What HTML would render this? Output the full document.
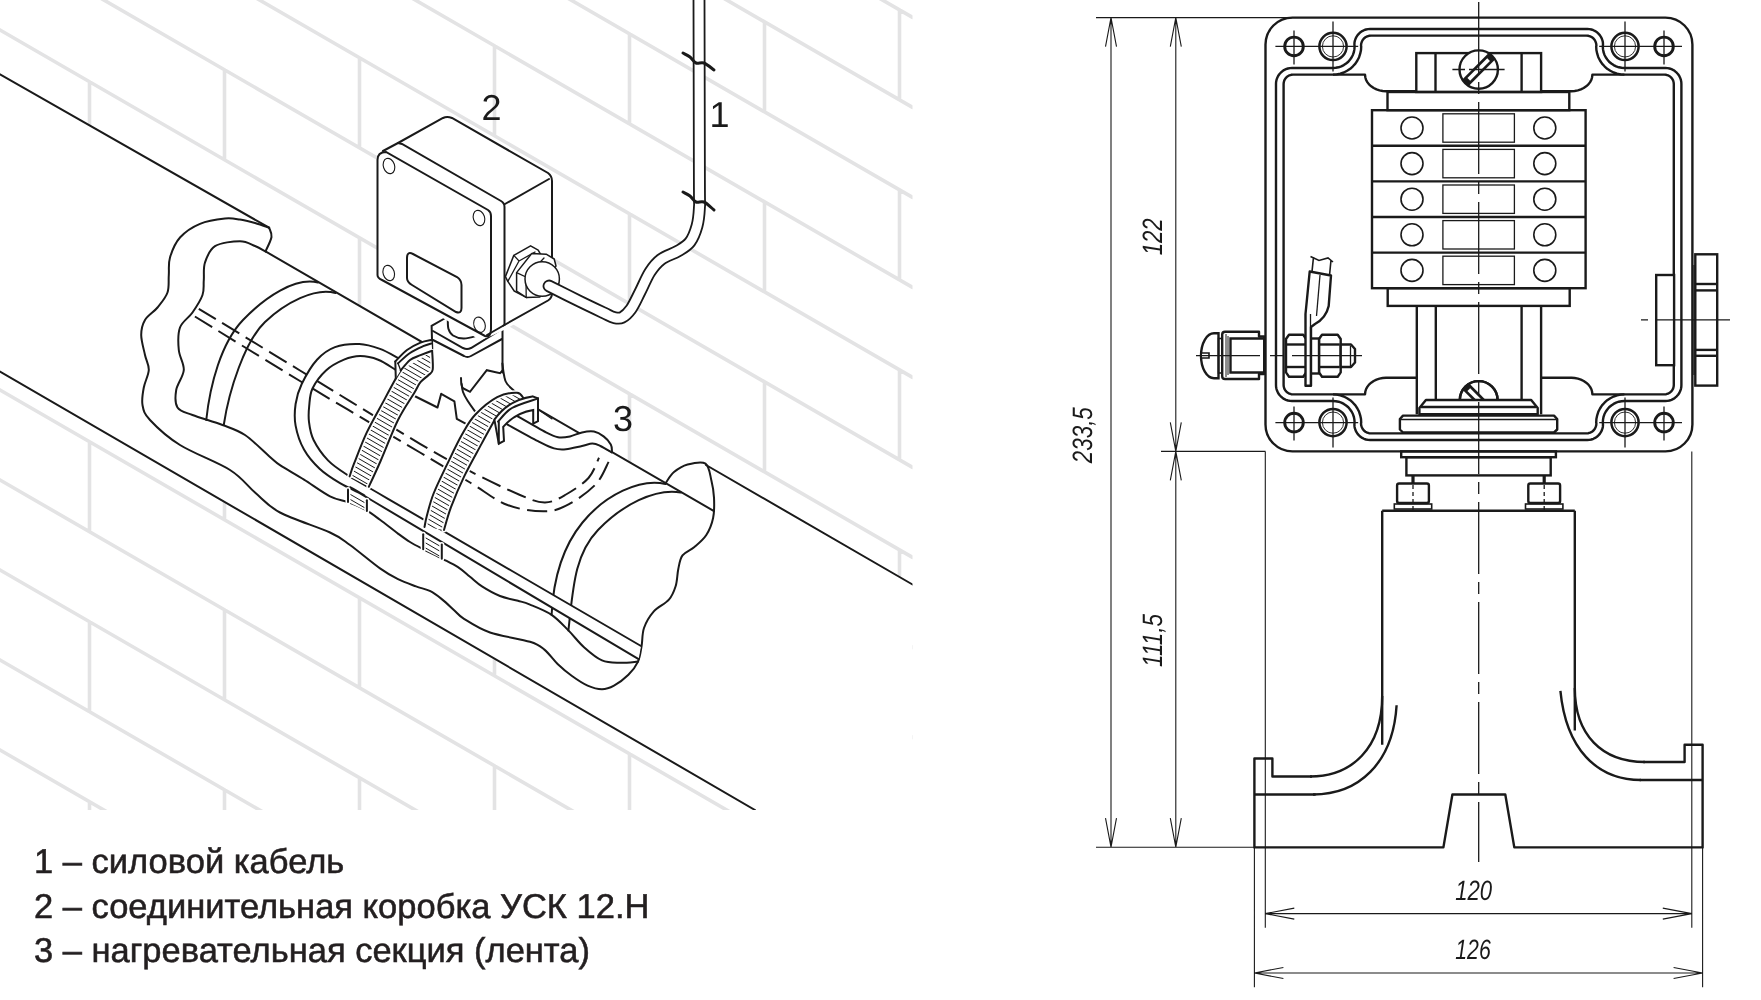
<!DOCTYPE html>
<html><head><meta charset="utf-8"><style>
html,body{margin:0;padding:0;background:#fff;}
body{width:1761px;height:1000px;overflow:hidden;position:relative;}
svg{position:absolute;left:0;top:0;will-change:transform;}
text{-webkit-font-smoothing:antialiased;text-rendering:geometricPrecision;}
.lg{position:absolute;left:0;top:0;font-family:"Liberation Sans",sans-serif;color:#231f20;white-space:nowrap;}
</style></head><body>
<svg width="1761" height="1000" viewBox="0 0 1761 1000" stroke-linecap="round">
<defs><clipPath id="lc"><rect x="0" y="0" width="912.5" height="810"/></clipPath><pattern id="hatch" patternUnits="userSpaceOnUse" width="4.4" height="4.4" patternTransform="rotate(30)"><line x1="-1" y1="2.2" x2="5.4" y2="2.2" stroke="#1a1a1a" stroke-width="1.0"/></pattern></defs>
<g clip-path="url(#lc)">
<path d="M0,-690 L912.5,-162.6 M89.5,-638.3 L89.5,-548.3 M359.5,-482.2 L359.5,-392.2 M629.5,-326.1 L629.5,-236.1 M899.5,-170.1 L899.5,-80.1 M0,-600 L912.5,-72.6 M224.5,-470.2 L224.5,-380.2 M494.5,-314.2 L494.5,-224.2 M764.5,-158.1 L764.5,-68.1 M0,-510 L912.5,17.4 M89.5,-458.3 L89.5,-368.3 M359.5,-302.2 L359.5,-212.2 M629.5,-146.1 L629.5,-56.1 M899.5,9.9 L899.5,99.9 M0,-420 L912.5,107.4 M224.5,-290.2 L224.5,-200.2 M494.5,-134.2 L494.5,-44.2 M764.5,21.9 L764.5,111.9 M0,-330 L912.5,197.4 M89.5,-278.3 L89.5,-188.3 M359.5,-122.2 L359.5,-32.2 M629.5,33.9 L629.5,123.9 M899.5,189.9 L899.5,279.9 M0,-240 L912.5,287.4 M224.5,-110.2 L224.5,-20.2 M494.5,45.8 L494.5,135.8 M764.5,201.9 L764.5,291.9 M0,-150 L912.5,377.4 M89.5,-98.3 L89.5,-8.3 M359.5,57.8 L359.5,147.8 M629.5,213.9 L629.5,303.9 M899.5,369.9 L899.5,459.9 M0,-60 L912.5,467.4 M224.5,69.8 L224.5,159.8 M494.5,225.8 L494.5,315.8 M764.5,381.9 L764.5,471.9 M0,30 L912.5,557.4 M89.5,81.7 L89.5,171.7 M359.5,237.8 L359.5,327.8 M629.5,393.9 L629.5,483.9 M899.5,549.9 L899.5,639.9 M0,120 L912.5,647.4 M224.5,249.8 L224.5,339.8 M494.5,405.8 L494.5,495.8 M764.5,561.9 L764.5,651.9 M0,210 L912.5,737.4 M89.5,261.7 L89.5,351.7 M359.5,417.8 L359.5,507.8 M629.5,573.9 L629.5,663.9 M899.5,729.9 L899.5,819.9 M0,300 L912.5,827.4 M224.5,429.8 L224.5,519.8 M494.5,585.8 L494.5,675.8 M764.5,741.9 L764.5,831.9 M0,390 L912.5,917.4 M89.5,441.7 L89.5,531.7 M359.5,597.8 L359.5,687.8 M629.5,753.9 L629.5,843.9 M899.5,909.9 L899.5,999.9 M0,480 L912.5,1007.4 M224.5,609.8 L224.5,699.8 M494.5,765.8 L494.5,855.8 M764.5,921.9 L764.5,1011.9 M0,570 L912.5,1097.4 M89.5,621.7 L89.5,711.7 M359.5,777.8 L359.5,867.8 M629.5,933.9 L629.5,1023.9 M899.5,1089.9 L899.5,1179.9 M0,660 L912.5,1187.4 M224.5,789.8 L224.5,879.8 M494.5,945.8 L494.5,1035.8 M764.5,1101.9 L764.5,1191.9 M0,750 L912.5,1277.4 M89.5,801.7 L89.5,891.7 M359.5,957.8 L359.5,1047.8 M629.5,1113.9 L629.5,1203.9 M899.5,1269.9 L899.5,1359.9 M0,840 L912.5,1367.4 M224.5,969.8 L224.5,1059.8 M494.5,1125.8 L494.5,1215.8 M764.5,1281.9 L764.5,1371.9 M0,930 L912.5,1457.4 M89.5,981.7 L89.5,1071.7 M359.5,1137.8 L359.5,1227.8 M629.5,1293.9 L629.5,1383.9 M899.5,1449.9 L899.5,1539.9 M0,1020 L912.5,1547.4 M224.5,1149.8 L224.5,1239.8 M494.5,1305.8 L494.5,1395.8 M764.5,1461.9 L764.5,1551.9" stroke="#e3e3e4" stroke-width="3.6" fill="none"/>
<polygon points="0,74.3 269.1,227.7 271.2,237 265.5,251.4 665,482.7 680,470 700,464 706,465 912.5,584.5 912.5,810 755,810 0,371.5" fill="#fff" stroke="none" stroke-width="0" stroke-linejoin="round" />
<line x1="0" y1="74.3" x2="269.1" y2="227.7" stroke="#1a1a1a" stroke-width="2.0" />
<path d="M269.1,227.7 C269.5,229.2 272.1,233.1 271.5,237 C270.9,240.9 266.5,249 265.5,251.4" fill="none" stroke="#1a1a1a" stroke-width="2.0" />
<path d="M269.1,227.7 C266.8,226.9 259.9,224.3 255,223 C250.2,221.7 245,220.3 240,219.6 C235,218.8 231.7,217.8 225,218.5 C218.3,219.2 207.5,220.6 200,223.8 C192.5,226.9 185,231.9 180,237.5 C175,243.1 171.9,251.2 170,257.5 C168.1,263.8 169.2,269.2 168.8,275 C168.3,280.8 169.4,287.1 167.5,292.5 C165.6,297.9 161.2,302.9 157.5,307.5 C153.8,312.1 147.7,315.4 145,320 C142.3,324.6 141.2,329.2 141.2,335 C141.2,340.8 143.8,349.2 145,355 C146.2,360.8 149,364.6 148.8,370 C148.5,375.4 144.8,381.7 143.8,387.5 C142.7,393.3 141.5,399.6 142.5,405 C143.5,410.4 143.8,413.3 150,420 C156.2,426.7 166.7,436.7 180,445 C193.3,453.3 217.5,462.1 230,470 C242.5,477.9 246.7,485.4 255,492.5 C263.3,499.6 267.5,505.8 280,512.5 C292.5,519.2 318.3,527.1 330,532.5 C341.7,537.9 341.7,539 350,545 C358.3,551 372,562.7 380,568.4 C388,574.1 392,576.2 398,579.2 C404,582.2 410.6,584.4 416,586.4 C421.4,588.4 426,589 430.4,591.2 C434.8,593.4 438.4,596.4 442.4,599.6 C446.4,602.8 450.8,607.2 454.4,610.4 C458,613.6 458.1,615.1 464,618.8 C469.9,622.5 479,628.7 490,632.5 C501,636.3 520.9,638.9 530,641.8 C539.1,644.6 539.8,645.9 544.4,649.6 C549,653.3 553,659.6 557.6,664 C562.2,668.4 567,672.4 572,676 C577,679.6 582.6,683.4 587.6,685.6 C592.6,687.8 597.6,689.2 602,689.2 C606.4,689.2 609.6,688 614,685.6 C618.4,683.2 624.4,678.8 628.4,674.8 C632.4,670.8 635.8,666.4 638,661.6 C640.2,656.8 640.6,651.6 641.6,646 C642.6,640.4 642,633.7 644,628 C646,622.3 649.5,616.3 653.6,611.6 C657.8,606.9 665.2,604 668.9,599.7 C672.6,595.4 674.1,591.1 675.7,586 C677.3,580.9 677.2,574.1 678.3,569 C679.4,563.9 679.8,559.1 682.5,555.4 C685.2,551.7 690.4,550.4 694.4,547 C698.4,543.6 703.2,539.8 706.3,535 C709.4,530.2 711.8,524.2 713.1,518 C714.4,511.8 714.3,503.8 714,497.6 C713.7,491.4 712.8,486.3 711.4,480.6 C710,474.9 709.5,466.3 705.5,463.6 C701.5,460.9 692.9,463.1 687.6,464.5 C682.4,465.9 677.7,469 674,472.1 C670.3,475.2 666.9,481.4 665.5,483.2" fill="none" stroke="#1a1a1a" stroke-width="2.0" />
<path d="M265.5,251.4 C263.8,250.5 259.2,247.7 255,246 C250.8,244.3 246.7,241.2 240,241.2 C233.3,241.2 220.8,242.7 215,246.2 C209.2,249.8 206.9,256.9 205,262.5 C203.1,268.1 204.2,274.6 203.8,280 C203.3,285.4 204.4,289.6 202.5,295 C200.6,300.4 196.2,307.1 192.5,312.5 C188.8,317.9 182.3,321.2 180,327.5 C177.7,333.8 178.1,342.9 178.8,350 C179.4,357.1 184.2,363.3 183.8,370 C183.3,376.7 177.3,383.8 176.2,390 C175.2,396.2 174.8,403.3 177.5,407.5 C180.2,411.7 185,412.1 192.5,415 C200,417.9 213.8,421.7 222.5,425 C231.2,428.3 237.1,429.7 245,435 C252.9,440.3 264.2,452 270,457 C275.8,462 274.3,461.4 280,465.2 C285.7,469 295.7,474.4 304,479.6 C312.3,484.8 322.7,492.6 330,496.3 C337.3,500.1 342,499.8 348,502.1 C354,504.4 360.7,507.2 366,510.2 C371.3,513.1 374.7,515.9 380,519.8 C385.3,523.7 393,529.9 398,533.6 C403,537.3 405.8,539.4 410,542 C414.2,544.6 417.8,546.4 423.2,549.2 C428.6,552 436.6,555.8 442.4,558.8 C448.2,561.8 453.4,564.2 458,567.2 C462.6,570.2 466,573.6 470,576.8 C474,580 477,583.2 482,586.4 C487,589.6 494,593.6 500,596 C506,598.4 513,599.4 518,600.8 C523,602.2 524.4,602.3 530,604.6 C535.6,606.9 545.2,610.5 551.6,614.8 C558,619.1 563,625 568.4,630.4 C573.8,635.8 578.4,642.2 584,647.2 C589.6,652.2 596,657.8 602,660.4 C608,663 614,662.6 620,662.8 C626,663 635,661.8 638,661.6" fill="none" stroke="#1a1a1a" stroke-width="2.0" />
<line x1="265.5" y1="251.4" x2="714" y2="511.1" stroke="#1a1a1a" stroke-width="2.0" />
<line x1="706" y1="465" x2="912.5" y2="584.5" stroke="#1a1a1a" stroke-width="2.0" />
<line x1="0" y1="371.5" x2="755" y2="810" stroke="#1a1a1a" stroke-width="2.0" />
<path d="M198.8,308.8 C215.6,319 263.1,348 300,370.5 C336.9,393 391.7,427 420,443.8 C448.3,460.5 453.3,462.7 470,471.2 C486.7,479.8 507.5,489.8 520,495 C532.5,500.2 537.3,502.6 545,502.5 C552.7,502.4 558.8,498.6 566,494.5 C573.2,490.4 583,484.1 588.5,478 C594,471.9 597.2,461.1 599,457.8" fill="none" stroke="#1a1a1a" stroke-width="2.0" stroke-dasharray="20 7.5" stroke-linecap="butt"/>
<path d="M192.5,315 C210.4,326 262.1,358.1 300,381 C337.9,403.9 391.7,435.6 420,452.5 C448.3,469.4 455.4,473.8 470,482.5 C484.6,491.2 495,500.2 507.5,505 C520,509.8 534.8,511.4 545,511.2 C555.2,511.1 560.5,508.8 569,504.2 C577.5,499.7 589.4,491.1 596,484 C602.6,476.9 606.6,465.2 608.8,461.5" fill="none" stroke="#1a1a1a" stroke-width="2.0" stroke-dasharray="20 7.5" stroke-dashoffset="24.3" stroke-linecap="butt"/>
<path d="M318,282.5 C295,277 265,297 243,320 S210,385 206.25,420" fill="none" stroke="#1a1a1a" stroke-width="2.0" />
<path d="M335.5,293 C315,287 285,303 265,322 S229,390 223.75,425" fill="none" stroke="#1a1a1a" stroke-width="2.0" />
<path d="M665.5,484 C640,478 605,495 582.5,522.5 S553,585 551.6,614.8" fill="none" stroke="#1a1a1a" stroke-width="2.0" />
<path d="M680.8,492.5 C655,488 622,505 598,530 S573,590 568.4,630.4" fill="none" stroke="#1a1a1a" stroke-width="2.0" />
<path d="M398,357.9 C395,356.4 386.4,351.2 380,348.9 C373.6,346.6 366.8,344.3 359.3,344 C351.8,343.7 342.1,344.5 335,347.1 C327.9,349.7 322.6,353.6 317,359.7 C311.4,365.8 305.3,376.6 301.7,384 C298.1,391.4 296.6,397.1 295.6,404 C294.6,410.9 294.2,418 295.6,425.6 C297,433.2 300,442.4 304,449.6 C308,456.8 313.6,463.2 319.6,468.8 C325.6,474.4 332.6,478.8 340,483.2 C347.4,487.6 358.8,492.4 364,495.2 C369.2,498 325.4,472.7 371.2,500 C417,527.3 594,632.7 638.6,659.2 L641,646 C598.8,621.5 437,527.3 388,498.8 C339,470.3 357.2,481.2 347.2,474.8 C337.2,468.4 333.6,466.2 328,460.4 C322.4,454.6 316.8,446.4 313.6,440 C310.4,433.6 309.7,427.7 309,422 C308.3,416.3 308.6,411.6 309.2,406 C309.8,400.4 309.7,394.4 312.5,388.5 C315.3,382.6 320.8,375.3 326,370.5 C331.2,365.7 338.3,362.1 344,359.7 C349.7,357.3 354.5,356.1 360.2,356.1 C365.9,356.1 372.3,357.4 378.2,359.7 C384.1,361.9 392.4,368 395.3,369.6Z" fill="#fff" stroke="none"/>
<path d="M398,357.9 C395,356.4 386.4,351.2 380,348.9 C373.6,346.6 366.8,344.3 359.3,344 C351.8,343.7 342.1,344.5 335,347.1 C327.9,349.7 322.6,353.6 317,359.7 C311.4,365.8 305.3,376.6 301.7,384 C298.1,391.4 296.6,397.1 295.6,404 C294.6,410.9 294.2,418 295.6,425.6 C297,433.2 300,442.4 304,449.6 C308,456.8 313.6,463.2 319.6,468.8 C325.6,474.4 332.6,478.8 340,483.2 C347.4,487.6 358.8,492.4 364,495.2 C369.2,498 325.4,472.7 371.2,500 C417,527.3 594,632.7 638.6,659.2" fill="none" stroke="#1a1a1a" stroke-width="2.0" />
<path d="M395.3,369.6 C392.4,368 384.1,361.9 378.2,359.7 C372.3,357.4 365.9,356.1 360.2,356.1 C354.5,356.1 349.7,357.3 344,359.7 C338.3,362.1 331.2,365.7 326,370.5 C320.8,375.3 315.3,382.6 312.5,388.5 C309.7,394.4 309.8,400.4 309.2,406 C308.6,411.6 308.3,416.3 309,422 C309.7,427.7 310.4,433.6 313.6,440 C316.8,446.4 322.4,454.6 328,460.4 C333.6,466.2 337.2,468.4 347.2,474.8 C357.2,481.2 339,470.3 388,498.8 C437,527.3 598.8,621.5 641,646" fill="none" stroke="#1a1a1a" stroke-width="2.0" />
<path d="M516.4,415.6 C521.3,418.4 539.1,428.8 546,432.4 C552.9,436 554,436.5 558,437.2 C562,437.9 566,437.2 570,436.4 C574,435.6 578,433.2 582,432.4 C586,431.6 590.4,430.9 594,431.6 C597.6,432.3 600.8,434.3 603.6,436.4 C606.4,438.5 609.4,441.9 610.8,444.4 C612.2,446.9 611.8,450.4 612,451.6 L611.6,452.4 C609.7,451.3 603.6,447.5 600.4,446 C597.2,444.5 595.5,443.6 592.4,443.6 C589.3,443.6 586.4,445.1 582,446 C577.6,446.9 570.7,448.8 566,449.2 C561.3,449.6 558.7,449.7 554,448.4 C549.3,447.1 545.8,445.2 538,441.2 C530.2,437.2 512.3,427.2 507.2,424.4Z" fill="#fff" stroke="none"/>
<path d="M507.2,424.4 C512.3,427.2 530.2,437.2 538,441.2 C545.8,445.2 549.3,447.1 554,448.4 C558.7,449.7 561.3,449.6 566,449.2 C570.7,448.8 577.6,446.9 582,446 C586.4,445.1 589.3,443.6 592.4,443.6 C595.5,443.6 597.2,444.5 600.4,446 C603.6,447.5 609.7,451.3 611.6,452.4" fill="none" stroke="#1a1a1a" stroke-width="2.0" />
<path d="M516.4,415.6 C521.3,418.4 539.1,428.8 546,432.4 C552.9,436 554,436.5 558,437.2 C562,437.9 566,437.2 570,436.4 C574,435.6 578,433.2 582,432.4 C586,431.6 590.4,430.9 594,431.6 C597.6,432.3 600.8,434.3 603.6,436.4 C606.4,438.5 609.4,441.9 610.8,444.4 C612.2,446.9 611.8,450.4 612,451.6" fill="none" stroke="#1a1a1a" stroke-width="2.0" />
<line x1="538.8" y1="410" x2="552" y2="419" stroke="#1a1a1a" stroke-width="1.1" />
<path d="M431.5,328 Q431.5,323 436,320.5 L448,314 L502.5,330 L502.5,372.5 Q505,385 520,396 L470,420 L456.8,418.8 L454.4,401.4 L441.25,393.75 L437.5,407.5 L412.5,395 L431.5,369 Z" fill="#fff" stroke="none" stroke-width="0" />
<path d="M432.8,367.2 L431.6,325.8 L445.4,318" fill="none" stroke="#1a1a1a" stroke-width="2.0" />
<path d="M433,331 L463,348 Q467,350 471,348 L502,329" fill="none" stroke="#1a1a1a" stroke-width="2.0" />
<path d="M433,340 L464,356 Q467.5,358 471,356 L502,339" fill="none" stroke="#1a1a1a" stroke-width="2.0" />
<line x1="502.5" y1="330" x2="502.5" y2="372.5" stroke="#1a1a1a" stroke-width="2.0" />
<path d="M502.4,363.6 C502.7,365.5 503.2,371.6 504,375 C504.8,378.4 504.3,380.3 507.2,384 C510.1,387.7 519.2,395 521.6,397.2" fill="none" stroke="#1a1a1a" stroke-width="2.0" />
<polyline points="412.5,395 437.5,407.5 441.2,393.8 454.4,401.4 456.8,418.8 468.8,425.4" fill="none" stroke="#1a1a1a" stroke-width="2.0" stroke-linejoin="round" />
<path d="M461,378 Q461,388 464,388.8 L470,391.8 L486.8,370.2 L500,373.2 L502.4,370.8" fill="none" stroke="#1a1a1a" stroke-width="2.0" />
<path d="M461.6,384 C461.8,385.3 462,389.2 463,392 C464,394.8 465.4,397.3 467.6,400.8 C469.8,404.3 474.6,410.8 476,412.8" fill="none" stroke="#1a1a1a" stroke-width="2.0" />
<path d="M447.8,319.2 C447.9,320.8 447.6,326.3 448.5,329 C449.4,331.7 450.4,333.9 453,335.5 C455.6,337.1 459.6,338.7 464,338.6 C468.4,338.5 477,335.6 479.6,335" fill="none" stroke="#1a1a1a" stroke-width="2.0" />
<path d="M400.7,370.5 C399.9,371.9 398.5,373.8 395.8,378.6 C393.1,383.4 389.3,390.4 384.5,399.4 C379.7,408.4 371.9,421.8 366.8,432.4 C361.8,443 357.1,455.9 354.2,463.2 C351.3,470.5 350.4,474.2 349.6,476.4 L368.8,486.8 C370.8,482.5 375.7,472.1 380.6,461 C385.5,449.9 392.4,431.3 398,420 C403.6,408.7 410.4,399.3 414.2,393 C417.9,386.7 418.1,385.2 420.5,382.2 C422.9,379.2 426.6,377.1 428.6,375 C430.6,372.9 432.1,373.5 432.7,369.6 C433.3,365.7 432.3,354.6 432.2,351.6Z" fill="#fff" stroke="none"/>
<path d="M400.7,370.5 C399.9,371.9 398.5,373.8 395.8,378.6 C393.1,383.4 389.3,390.4 384.5,399.4 C379.7,408.4 371.9,421.8 366.8,432.4 C361.8,443 357.1,455.9 354.2,463.2 C351.3,470.5 350.4,474.2 349.6,476.4 L368.8,486.8 C370.8,482.5 375.7,472.1 380.6,461 C385.5,449.9 392.4,431.3 398,420 C403.6,408.7 410.4,399.3 414.2,393 C417.9,386.7 418.1,385.2 420.5,382.2 C422.9,379.2 426.6,377.1 428.6,375 C430.6,372.9 432.1,373.5 432.7,369.6 C433.3,365.7 432.3,354.6 432.2,351.6Z" fill="url(#hatch)" stroke="none"/>
<path d="M400.7,370.5 C399.9,371.9 398.5,373.8 395.8,378.6 C393.1,383.4 389.3,390.4 384.5,399.4 C379.7,408.4 371.9,421.8 366.8,432.4 C361.8,443 357.1,455.9 354.2,463.2 C351.3,470.5 350.4,474.2 349.6,476.4" fill="none" stroke="#fff" stroke-width="5" />
<path d="M432.2,351.6 C432.3,354.6 433.3,365.7 432.7,369.6 C432.1,373.5 430.6,372.9 428.6,375 C426.6,377.1 422.9,379.2 420.5,382.2 C418.1,385.2 417.9,386.7 414.2,393 C410.4,399.3 403.6,408.7 398,420 C392.4,431.3 385.5,449.9 380.6,461 C375.7,472.1 370.8,482.5 368.8,486.8" fill="none" stroke="#fff" stroke-width="5" />
<path d="M400.7,370.5 C399.9,371.9 398.5,373.8 395.8,378.6 C393.1,383.4 389.3,390.4 384.5,399.4 C379.7,408.4 371.9,421.8 366.8,432.4 C361.8,443 357.1,455.9 354.2,463.2 C351.3,470.5 350.4,474.2 349.6,476.4" fill="none" stroke="#1a1a1a" stroke-width="2.0" />
<path d="M432.2,351.6 C432.3,354.6 433.3,365.7 432.7,369.6 C432.1,373.5 430.6,372.9 428.6,375 C426.6,377.1 422.9,379.2 420.5,382.2 C418.1,385.2 417.9,386.7 414.2,393 C410.4,399.3 403.6,408.7 398,420 C392.4,431.3 385.5,449.9 380.6,461 C375.7,472.1 370.8,482.5 368.8,486.8" fill="none" stroke="#1a1a1a" stroke-width="2.0" />
<path d="M348,489.5 L348,502.1 L366.9,511.1 L366.9,500.3Z" fill="#fff" stroke="none"/>
<path d="M348,489.5 L348,502.1 L366.9,511.1 L366.9,500.3Z" fill="url(#hatch)" stroke="none"/>
<path d="M348,489.5 L348,502.1" fill="none" stroke="#fff" stroke-width="5" />
<path d="M366.9,500.3 L366.9,511.1" fill="none" stroke="#fff" stroke-width="5" />
<path d="M348,489.5 L348,502.1" fill="none" stroke="#1a1a1a" stroke-width="2.0" />
<path d="M366.9,500.3 L366.9,511.1" fill="none" stroke="#1a1a1a" stroke-width="2.0" />
<path d="M523.6,398.3 C522.5,397.4 521.4,393 517,392.8 C512.6,392.6 504.2,393.5 497.2,397.2 C490.2,400.9 481.1,408.6 475.2,414.8 C469.3,421 466.8,426.2 462,434.6 C457.2,443 451.4,455.5 446.6,465.4 C441.8,475.3 436.7,485.6 433.4,494 C430.1,502.4 428.3,510.5 426.8,516 C425.3,521.5 424.9,525.2 424.5,527 L444,530 C445.2,526.2 447.6,516.1 451,507.2 C454.4,498.3 459.1,487 464.2,476.4 C469.3,465.8 476.7,452.9 481.8,443.4 C486.9,433.9 492.8,423.2 495,419.2Z" fill="#fff" stroke="none"/>
<path d="M523.6,398.3 C522.5,397.4 521.4,393 517,392.8 C512.6,392.6 504.2,393.5 497.2,397.2 C490.2,400.9 481.1,408.6 475.2,414.8 C469.3,421 466.8,426.2 462,434.6 C457.2,443 451.4,455.5 446.6,465.4 C441.8,475.3 436.7,485.6 433.4,494 C430.1,502.4 428.3,510.5 426.8,516 C425.3,521.5 424.9,525.2 424.5,527 L444,530 C445.2,526.2 447.6,516.1 451,507.2 C454.4,498.3 459.1,487 464.2,476.4 C469.3,465.8 476.7,452.9 481.8,443.4 C486.9,433.9 492.8,423.2 495,419.2Z" fill="url(#hatch)" stroke="none"/>
<path d="M523.6,398.3 C522.5,397.4 521.4,393 517,392.8 C512.6,392.6 504.2,393.5 497.2,397.2 C490.2,400.9 481.1,408.6 475.2,414.8 C469.3,421 466.8,426.2 462,434.6 C457.2,443 451.4,455.5 446.6,465.4 C441.8,475.3 436.7,485.6 433.4,494 C430.1,502.4 428.3,510.5 426.8,516 C425.3,521.5 424.9,525.2 424.5,527" fill="none" stroke="#fff" stroke-width="5" />
<path d="M495,419.2 C492.8,423.2 486.9,433.9 481.8,443.4 C476.7,452.9 469.3,465.8 464.2,476.4 C459.1,487 454.4,498.3 451,507.2 C447.6,516.1 445.2,526.2 444,530" fill="none" stroke="#fff" stroke-width="5" />
<path d="M523.6,398.3 C522.5,397.4 521.4,393 517,392.8 C512.6,392.6 504.2,393.5 497.2,397.2 C490.2,400.9 481.1,408.6 475.2,414.8 C469.3,421 466.8,426.2 462,434.6 C457.2,443 451.4,455.5 446.6,465.4 C441.8,475.3 436.7,485.6 433.4,494 C430.1,502.4 428.3,510.5 426.8,516 C425.3,521.5 424.9,525.2 424.5,527" fill="none" stroke="#1a1a1a" stroke-width="2.0" />
<path d="M495,419.2 C492.8,423.2 486.9,433.9 481.8,443.4 C476.7,452.9 469.3,465.8 464.2,476.4 C459.1,487 454.4,498.3 451,507.2 C447.6,516.1 445.2,526.2 444,530" fill="none" stroke="#1a1a1a" stroke-width="2.0" />
<path d="M423.2,534.2 L423.2,549.2 L441.8,558.8 L441.8,544.4Z" fill="#fff" stroke="none"/>
<path d="M423.2,534.2 L423.2,549.2 L441.8,558.8 L441.8,544.4Z" fill="url(#hatch)" stroke="none"/>
<path d="M423.2,534.2 L423.2,549.2" fill="none" stroke="#fff" stroke-width="5" />
<path d="M441.8,544.4 L441.8,558.8" fill="none" stroke="#fff" stroke-width="5" />
<path d="M423.2,534.2 L423.2,549.2" fill="none" stroke="#1a1a1a" stroke-width="2.0" />
<path d="M441.8,544.4 L441.8,558.8" fill="none" stroke="#1a1a1a" stroke-width="2.0" />
<path d="M494.4,419.6 L498.8,443.6 L504,440.8 L503.2,426.8 Q515,413 533.2,410 L533.2,423.6 L538,421.2 L538,398.4 L532.4,396.4 Q508,400 494.4,419.6 Z" fill="#fff" stroke="#1a1a1a" stroke-width="2.0" />
<path d="M498,421.6 C500.3,419.3 505.3,411.9 512,408 C518.7,404.1 533.7,400 538,398.4" fill="none" stroke="#1a1a1a" stroke-width="2.0" />
<line x1="498.8" y1="422" x2="498.8" y2="443.6" stroke="#1a1a1a" stroke-width="2.0" />
<path d="M395.3,361.5 C397.2,359.6 402.8,353.1 407,350 C411.2,346.9 416.4,344.3 420.5,342.6 C424.6,340.9 429.5,340.3 431.3,339.9 L432.2,350.7 C430.2,351.4 424.2,353.6 420.5,355.2 C416.8,356.8 413.3,357.4 410,360 C406.7,362.6 402.2,368.8 400.7,370.5 L395.8,378.6 Z" fill="#fff" stroke="none"/>
<path d="M395.3,361.5 C397.2,359.6 402.8,353.1 407,350 C411.2,346.9 416.4,344.3 420.5,342.6 C424.6,340.9 429.5,340.3 431.3,339.9" fill="none" stroke="#1a1a1a" stroke-width="2.0" />
<path d="M398,363.3 C400,361.6 405.8,355.9 410,353 C414.2,350.1 419.6,347.8 423.2,346.2 C426.8,344.6 429.9,343.9 431.3,343.5" fill="none" stroke="#1a1a1a" stroke-width="2.0" />
<path d="M400.7,370.5 C402.2,368.8 406.7,362.6 410,360 C413.3,357.4 416.8,356.8 420.5,355.2 C424.2,353.6 430.2,351.4 432.2,350.7" fill="none" stroke="#1a1a1a" stroke-width="2.0" />
<line x1="395.3" y1="361.5" x2="395.8" y2="378.6" stroke="#1a1a1a" stroke-width="2.0" />
<line x1="398" y1="363.3" x2="400.7" y2="370.5" stroke="#1a1a1a" stroke-width="1.3" />
<polygon points="377.5,150 443,117 452,117 552,176 552,303 504,330 491,336 480,340 382,282 377.5,275" fill="#fff" stroke="none" stroke-width="0" stroke-linejoin="round" />
<path d="M383,151 L398,143 L443,118 Q447,116 452,118 L548,173 Q552,176 552,181 L552,293 Q552,298 548,300.5 L503.5,325.5" fill="none" stroke="#1a1a1a" stroke-width="2.0" />
<path d="M398,143 Q400,143.5 402,144 L501,201 Q504.5,203 504.5,207 L504.5,325" fill="none" stroke="#1a1a1a" stroke-width="2.0" />
<line x1="505" y1="204" x2="549" y2="179" stroke="#1a1a1a" stroke-width="2.0" />
<path d="M377.5,275 L377.5,160 Q377.5,152 386,152 L488,210 Q491,212 491,216 L491,329 Q491,338 485,336 L382,280 Q377.5,278 377.5,275 Z" fill="#fff" stroke="#1a1a1a" stroke-width="2.0" />
<line x1="487" y1="335" x2="503.5" y2="325.5" stroke="#1a1a1a" stroke-width="2.0" />
<ellipse cx="389" cy="166" rx="5.6" ry="7.8" transform="rotate(-18 389 166)" fill="none" stroke="#1a1a1a" stroke-width="1.1"/>
<ellipse cx="479" cy="218" rx="5.6" ry="7.8" transform="rotate(-18 479 218)" fill="none" stroke="#1a1a1a" stroke-width="1.1"/>
<ellipse cx="388.75" cy="273" rx="5.6" ry="7.8" transform="rotate(-18 388.75 273)" fill="none" stroke="#1a1a1a" stroke-width="1.1"/>
<ellipse cx="479.5" cy="324.75" rx="5.6" ry="7.8" transform="rotate(-18 479.5 324.75)" fill="none" stroke="#1a1a1a" stroke-width="1.1"/>
<path d="M407,258 Q407,251 413,254 L457,277 Q461.5,280 461.5,285 L461.5,308 Q461.5,314 456,312 L412,285 Q407,282 407,278 Z" fill="none" stroke="#1a1a1a" stroke-width="2.0" />
<polygon points="505.4,276.6 513.8,255.4 530.6,245.8 538.2,250.2 545,262 535,296 526.2,297.4 514.2,291 507.8,281.4" fill="#fff" stroke="#1a1a1a" stroke-width="1.5" stroke-linejoin="round" />
<path d="M513.8,255.4 L519,261 L535,252 M519,261 L507.8,281.4" fill="none" stroke="#1a1a1a" stroke-width="1.3" />
<polygon points="516.6,272.6 531.8,253.4 546.2,254.2 554.2,259 556,266 540,297 526.2,297.4 516.6,291" fill="#fff" stroke="#1a1a1a" stroke-width="1.5" stroke-linejoin="round" />
<path d="M516.6,272.6 L526,277 L544,258 M526,277 L526.2,297.4" fill="none" stroke="#1a1a1a" stroke-width="1.3" />
<circle cx="542.2" cy="279" r="17.2" fill="#fff" stroke="#1a1a1a" stroke-width="1.5"/>
<path d="M549,286 C554.2,288.6 570.8,297 580,301.5 C589.2,306 598.3,310.3 604,313 C609.7,315.7 611,316.8 614,317.5 C617,318.2 619.2,318.9 622,317.5 C624.8,316.1 628,313.2 631,309 C634,304.8 636.8,298.2 640,292 C643.2,285.8 646.5,277.4 650,272 C653.5,266.6 656.3,263 661,259.5 C665.7,256 673.2,253.9 678,251 C682.8,248.1 686.8,246.2 690,242 C693.2,237.8 695.4,231.7 697,226 C698.6,220.3 699,215.7 699.4,208 C699.8,200.3 699.5,214.7 699.4,180 C699.3,145.3 699.1,30 699,0" fill="none" stroke="#1a1a1a" stroke-width="12.8" stroke-linecap="round"/>
<path d="M549,286 C554.2,288.6 570.8,297 580,301.5 C589.2,306 598.3,310.3 604,313 C609.7,315.7 611,316.8 614,317.5 C617,318.2 619.2,318.9 622,317.5 C624.8,316.1 628,313.2 631,309 C634,304.8 636.8,298.2 640,292 C643.2,285.8 646.5,277.4 650,272 C653.5,266.6 656.3,263 661,259.5 C665.7,256 673.2,253.9 678,251 C682.8,248.1 686.8,246.2 690,242 C693.2,237.8 695.4,231.7 697,226 C698.6,220.3 699,215.7 699.4,208 C699.8,200.3 699.5,214.7 699.4,180 C699.3,145.3 699.1,30 699,0" fill="none" stroke="#fff" stroke-width="9.2" stroke-linecap="round"/>
<path d="M683,53 C684.2,53.7 687.8,55.3 690,57 C692.2,58.7 693.7,62 696,63 C698.3,64 701,61.8 704,63 C707,64.2 712.3,68.8 714,70" fill="none" stroke="#1a1a1a" stroke-width="3" />
<path d="M683,192 C684.2,192.7 687.8,194.3 690,196 C692.2,197.7 693.7,201 696,202 C698.3,203 701,200.7 704,202 C707,203.3 712.3,208.7 714,210" fill="none" stroke="#1a1a1a" stroke-width="3" />
</g>
<text x="709.6" y="127.4" font-family="Liberation Sans" font-size="36" fill="#1a1a1a">1</text>
<text x="481.5" y="120" font-family="Liberation Sans" font-size="36" fill="#1a1a1a">2</text>
<text x="613" y="430.5" font-family="Liberation Sans" font-size="36" fill="#1a1a1a">3</text>
<g stroke-linecap="butt">
<rect x="1265.5" y="17.6" width="426.9" height="433.8" rx="27" fill="none" stroke="#1a1a1a" stroke-width="2.4"/>
<polygon points="1478.7,29 1370,29 1370,29 1368,29.1 1366,29.5 1364,30.2 1362.2,31.1 1360.5,32.2 1359,33.6 1357.6,35.1 1356.5,36.8 1355.6,38.6 1354.9,40.6 1354.5,42.6 1354.4,44.6 1354.6,46.4 1354.4,49.2 1353.9,52 1353,54.7 1351.7,57.2 1350.1,59.5 1348.3,61.7 1346.1,63.5 1343.8,65.1 1341.3,66.4 1338.6,67.3 1335.8,67.8 1333,68 1292,68 1292,68 1289.9,68.1 1287.9,68.5 1285.9,69.2 1284,70.1 1282.3,71.3 1280.7,72.7 1279.3,74.3 1278.1,76 1277.2,77.9 1276.5,79.9 1276.1,81.9 1276,84 1276,234.5 1276,234.5 1276,385 1276.1,387.1 1276.5,389.1 1277.2,391.1 1278.1,393 1279.3,394.7 1280.7,396.3 1282.3,397.7 1284,398.9 1285.9,399.8 1287.9,400.5 1289.9,400.9 1292,401 1292,401 1333,401 1335.8,401.2 1338.6,401.7 1341.3,402.6 1343.8,403.9 1346.1,405.5 1348.3,407.3 1350.1,409.5 1351.7,411.8 1353,414.3 1353.9,417 1354.4,419.8 1354.6,422.6 1354.4,424.4 1354.5,426.4 1354.9,428.4 1355.6,430.4 1356.5,432.2 1357.6,433.9 1359,435.4 1360.5,436.8 1362.2,437.9 1364,438.8 1366,439.5 1368,439.9 1370,440 1370,440 1478.7,440 1478.7,440 1587.4,440 1587.4,440 1589.4,439.9 1591.4,439.5 1593.4,438.8 1595.2,437.9 1596.9,436.8 1598.4,435.4 1599.8,433.9 1600.9,432.2 1601.8,430.4 1602.5,428.4 1602.9,426.4 1603,424.4 1602.8,422.6 1603,419.8 1603.5,417 1604.4,414.3 1605.7,411.8 1607.3,409.5 1609.1,407.3 1611.3,405.5 1613.6,403.9 1616.1,402.6 1618.8,401.7 1621.6,401.2 1624.4,401 1665.4,401 1665.4,401 1667.5,400.9 1669.5,400.5 1671.5,399.8 1673.4,398.9 1675.1,397.7 1676.7,396.3 1678.1,394.7 1679.3,393 1680.2,391.1 1680.9,389.1 1681.3,387.1 1681.4,385 1681.4,234.5 1681.4,234.5 1681.4,84 1681.3,81.9 1680.9,79.9 1680.2,77.9 1679.3,76 1678.1,74.3 1676.7,72.7 1675.1,71.3 1673.4,70.1 1671.5,69.2 1669.5,68.5 1667.5,68.1 1665.4,68 1665.4,68 1624.4,68 1621.6,67.8 1618.8,67.3 1616.1,66.4 1613.6,65.1 1611.3,63.5 1609.1,61.7 1607.3,59.5 1605.7,57.2 1604.4,54.7 1603.5,52 1603,49.2 1602.8,46.4 1603,44.6 1602.9,42.6 1602.5,40.6 1601.8,38.6 1600.9,36.8 1599.8,35.1 1598.4,33.6 1596.9,32.2 1595.2,31.1 1593.4,30.2 1591.4,29.5 1589.4,29.1 1587.4,29 1587.4,29 1478.7,29" fill="none" stroke="#1a1a1a" stroke-width="2.4" stroke-linejoin="round"/>
<polygon points="1478.7,35.6 1371,35.6 1371,35.6 1369,35.8 1367.2,36.4 1365.4,37.3 1363.9,38.5 1362.7,40 1361.8,41.8 1361.2,43.6 1361,45.6 1361.2,46.4 1361,50.1 1360.2,53.7 1359.1,57.2 1357.4,60.5 1355.4,63.6 1352.9,66.3 1350.2,68.8 1347.1,70.8 1343.8,72.5 1340.3,73.6 1336.7,74.4 1333,74.6 1293,74.6 1293,74.6 1291.2,74.8 1289.4,75.3 1287.8,76.2 1286.4,77.4 1285.2,78.8 1284.3,80.4 1283.8,82.2 1283.6,84 1283.6,234.5 1283.6,234.5 1283.6,385 1283.8,386.8 1284.3,388.6 1285.2,390.2 1286.4,391.6 1287.8,392.8 1289.4,393.7 1291.2,394.2 1293,394.4 1293,394.4 1333,394.4 1336.7,394.6 1340.3,395.4 1343.8,396.5 1347.1,398.2 1350.2,400.2 1352.9,402.7 1355.4,405.4 1357.4,408.5 1359.1,411.8 1360.2,415.3 1361,418.9 1361.2,422.6 1361,423.4 1361.2,425.4 1361.8,427.2 1362.7,429 1363.9,430.5 1365.4,431.7 1367.2,432.6 1369,433.2 1371,433.4 1371,433.4 1478.7,433.4 1478.7,433.4 1586.4,433.4 1586.4,433.4 1588.4,433.2 1590.2,432.6 1592,431.7 1593.5,430.5 1594.7,429 1595.6,427.2 1596.2,425.4 1596.4,423.4 1596.2,422.6 1596.4,418.9 1597.2,415.3 1598.3,411.8 1600,408.5 1602,405.4 1604.5,402.7 1607.2,400.2 1610.3,398.2 1613.6,396.5 1617.1,395.4 1620.7,394.6 1624.4,394.4 1664.4,394.4 1664.4,394.4 1666.2,394.2 1668,393.7 1669.6,392.8 1671,391.6 1672.2,390.2 1673.1,388.6 1673.6,386.8 1673.8,385 1673.8,234.5 1673.8,234.5 1673.8,84 1673.6,82.2 1673.1,80.4 1672.2,78.8 1671,77.4 1669.6,76.2 1668,75.3 1666.2,74.8 1664.4,74.6 1664.4,74.6 1624.4,74.6 1620.7,74.4 1617.1,73.6 1613.6,72.5 1610.3,70.8 1607.2,68.8 1604.5,66.3 1602,63.6 1600,60.5 1598.3,57.2 1597.2,53.7 1596.4,50.1 1596.2,46.4 1596.4,45.6 1596.2,43.6 1595.6,41.8 1594.7,40 1593.5,38.5 1592,37.3 1590.2,36.4 1588.4,35.8 1586.4,35.6 1586.4,35.6 1478.7,35.6" fill="none" stroke="#1a1a1a" stroke-width="2.4" stroke-linejoin="round"/>
<polyline points="1333,74.6 1365,74.6 1365,74.6 1365.3,77.2 1366,79.7 1367.3,82.1 1369,84.4 1371.2,86.3 1373.7,88 1376.5,89.4 1379.5,90.4 1382.7,91 1386,91.2 1416.5,91.2" fill="none" stroke="#1a1a1a" stroke-width="2.4" stroke-linejoin="round"/>
<polyline points="1333,394.4 1365,394.4 1365,394.4 1365.3,391.8 1366,389.3 1367.3,386.9 1369,384.6 1371.2,382.7 1373.7,381 1376.5,379.6 1379.5,378.6 1382.7,378 1386,377.8 1416.5,377.8" fill="none" stroke="#1a1a1a" stroke-width="2.4" stroke-linejoin="round"/>
<polyline points="1624.4,74.6 1592.4,74.6 1592.4,74.6 1592.1,77.2 1591.4,79.7 1590.1,82.1 1588.4,84.4 1586.2,86.3 1583.7,88 1580.9,89.4 1577.9,90.4 1574.7,91 1571.4,91.2 1540.9,91.2" fill="none" stroke="#1a1a1a" stroke-width="2.4" stroke-linejoin="round"/>
<polyline points="1624.4,394.4 1592.4,394.4 1592.4,394.4 1592.1,391.8 1591.4,389.3 1590.1,386.9 1588.4,384.6 1586.2,382.7 1583.7,381 1580.9,379.6 1577.9,378.6 1574.7,378 1571.4,377.8 1540.9,377.8" fill="none" stroke="#1a1a1a" stroke-width="2.4" stroke-linejoin="round"/>
<circle cx="1294" cy="46.4" r="9.3" fill="none" stroke="#1a1a1a" stroke-width="2.9"/>
<circle cx="1664" cy="46.4" r="9.3" fill="none" stroke="#1a1a1a" stroke-width="2.9"/>
<circle cx="1294" cy="422.6" r="9.3" fill="none" stroke="#1a1a1a" stroke-width="2.9"/>
<circle cx="1664" cy="422.6" r="9.3" fill="none" stroke="#1a1a1a" stroke-width="2.9"/>
<circle cx="1333" cy="46.4" r="13.6" fill="none" stroke="#1a1a1a" stroke-width="2.5"/>
<circle cx="1333" cy="46.4" r="10.6" fill="none" stroke="#1a1a1a" stroke-width="0.9"/>
<circle cx="1625" cy="46.4" r="13.6" fill="none" stroke="#1a1a1a" stroke-width="2.5"/>
<circle cx="1625" cy="46.4" r="10.6" fill="none" stroke="#1a1a1a" stroke-width="0.9"/>
<circle cx="1333" cy="422.6" r="13.6" fill="none" stroke="#1a1a1a" stroke-width="2.5"/>
<circle cx="1333" cy="422.6" r="10.6" fill="none" stroke="#1a1a1a" stroke-width="0.9"/>
<circle cx="1625" cy="422.6" r="13.6" fill="none" stroke="#1a1a1a" stroke-width="2.5"/>
<circle cx="1625" cy="422.6" r="10.6" fill="none" stroke="#1a1a1a" stroke-width="0.9"/>
<path d="M1275.4,46.4 L1358.2,46.4 M1599.2,46.4 L1682,46.4 M1294,30.4 L1294,64.4 M1333,21.4 L1333,71.4 M1625,21.4 L1625,71.4 M1664,30.4 L1664,64.4 M1275.4,422.6 L1358.2,422.6 M1599.2,422.6 L1682,422.6 M1294,406.6 L1294,440.6 M1333,397.6 L1333,447.6 M1625,397.6 L1625,447.6 M1664,406.6 L1664,440.6" stroke="#1a1a1a" stroke-width="1.3" fill="none"/>
<rect x="1416.3" y="53.1" width="124.8" height="38.9" rx="0" fill="none" stroke="#1a1a1a" stroke-width="2.4"/>
<line x1="1435.5" y1="53.1" x2="1435.5" y2="92" stroke="#1a1a1a" stroke-width="2.4" />
<line x1="1521.6" y1="53.1" x2="1521.6" y2="92" stroke="#1a1a1a" stroke-width="2.4" />
<rect x="1387.5" y="92" width="181.8" height="18.2" rx="0" fill="none" stroke="#1a1a1a" stroke-width="2.4"/>
<circle cx="1478.7" cy="69.6" r="19.2" fill="#fff" stroke="#1a1a1a" stroke-width="2.4"/>
<defs><clipPath id="scr1"><circle cx="1478.7" cy="69.5" r="19"/></clipPath><clipPath id="scr2"><path d="M1459.3,400 A19.4,19.4 0 0 1 1498.1,400 Z"/></clipPath></defs>
<g clip-path="url(#scr1)"><rect x="1458.7" y="64.9" width="40" height="9.2" fill="#1a1a1a" transform="rotate(-45 1478.7 69.5)"/><rect x="1464.7" y="67.6" width="28" height="3.8" fill="#fff" transform="rotate(-45 1478.7 69.5)"/></g>
<path d="M1452.4,69.5 L1465,69.5 M1469,69.5 L1504.6,69.5" stroke="#1a1a1a" stroke-width="1.3"/>
<rect x="1372" y="110.2" width="213.6" height="178" rx="0" fill="none" stroke="#1a1a1a" stroke-width="2.4"/>
<line x1="1372" y1="145.8" x2="1585.6" y2="145.8" stroke="#1a1a1a" stroke-width="2.4" />
<line x1="1372" y1="181.4" x2="1585.6" y2="181.4" stroke="#1a1a1a" stroke-width="2.4" />
<line x1="1372" y1="217" x2="1585.6" y2="217" stroke="#1a1a1a" stroke-width="2.4" />
<line x1="1372" y1="252.6" x2="1585.6" y2="252.6" stroke="#1a1a1a" stroke-width="2.4" />
<circle cx="1412" cy="128" r="11" fill="none" stroke="#1a1a1a" stroke-width="1.6"/>
<circle cx="1544.8" cy="128" r="11" fill="none" stroke="#1a1a1a" stroke-width="1.6"/>
<rect x="1442.9" y="113.8" width="71.5" height="28.4" rx="0" fill="none" stroke="#1a1a1a" stroke-width="1.3"/>
<circle cx="1412" cy="163.6" r="11" fill="none" stroke="#1a1a1a" stroke-width="1.6"/>
<circle cx="1544.8" cy="163.6" r="11" fill="none" stroke="#1a1a1a" stroke-width="1.6"/>
<rect x="1442.9" y="149.4" width="71.5" height="28.4" rx="0" fill="none" stroke="#1a1a1a" stroke-width="1.3"/>
<circle cx="1412" cy="199.2" r="11" fill="none" stroke="#1a1a1a" stroke-width="1.6"/>
<circle cx="1544.8" cy="199.2" r="11" fill="none" stroke="#1a1a1a" stroke-width="1.6"/>
<rect x="1442.9" y="185" width="71.5" height="28.4" rx="0" fill="none" stroke="#1a1a1a" stroke-width="1.3"/>
<circle cx="1412" cy="234.8" r="11" fill="none" stroke="#1a1a1a" stroke-width="1.6"/>
<circle cx="1544.8" cy="234.8" r="11" fill="none" stroke="#1a1a1a" stroke-width="1.6"/>
<rect x="1442.9" y="220.6" width="71.5" height="28.4" rx="0" fill="none" stroke="#1a1a1a" stroke-width="1.3"/>
<circle cx="1412" cy="270.4" r="11" fill="none" stroke="#1a1a1a" stroke-width="1.6"/>
<circle cx="1544.8" cy="270.4" r="11" fill="none" stroke="#1a1a1a" stroke-width="1.6"/>
<rect x="1442.9" y="256.2" width="71.5" height="28.4" rx="0" fill="none" stroke="#1a1a1a" stroke-width="1.3"/>
<rect x="1387.7" y="288.2" width="182" height="17.7" rx="0" fill="none" stroke="#1a1a1a" stroke-width="2.4"/>
<line x1="1416.8" y1="305.9" x2="1416.8" y2="414.3" stroke="#1a1a1a" stroke-width="2.4" />
<line x1="1541.1" y1="305.9" x2="1541.1" y2="414.3" stroke="#1a1a1a" stroke-width="2.4" />
<line x1="1435.8" y1="305.9" x2="1435.8" y2="400" stroke="#1a1a1a" stroke-width="2.4" />
<line x1="1521.6" y1="305.9" x2="1521.6" y2="400" stroke="#1a1a1a" stroke-width="2.4" />
<path d="M1459.8,400 A18.9,18.9 0 0 1 1497.6,400" fill="#fff" stroke="#1a1a1a" stroke-width="2.4"/>
<g clip-path="url(#scr2)"><g transform="rotate(45 1478.7 399.5)"><rect x="1458.7" y="394.9" width="40" height="9.2" fill="#1a1a1a"/><rect x="1464.7" y="397.6" width="28" height="3.8" fill="#fff"/></g></g>
<path d="M1459.8,400 A18.9,18.9 0 0 1 1497.6,400" fill="none" stroke="#1a1a1a" stroke-width="2.4"/>
<polygon points="1425.9,400 1531.2,400 1537.7,408 1537.7,414.3 1419.4,414.3 1419.4,408" fill="#fff" stroke="#1a1a1a" stroke-width="2.4" stroke-linejoin="round"/>
<line x1="1421" y1="407" x2="1536" y2="407" stroke="#1a1a1a" stroke-width="2.4" />
<polygon points="1403,415.6 1554,415.6 1557.2,419 1557.2,429.5 1554,432.5 1403,432.5 1399.9,429.5 1399.9,419" fill="#fff" stroke="#1a1a1a" stroke-width="2.4" stroke-linejoin="round"/>
<line x1="1401" y1="419.5" x2="1556" y2="419.5" stroke="#1a1a1a" stroke-width="1.3" />
<rect x="1401.2" y="451.4" width="154.7" height="5.8" rx="0" fill="none" stroke="#1a1a1a" stroke-width="2.4"/>
<rect x="1406.4" y="457.2" width="144.3" height="18.2" rx="0" fill="none" stroke="#1a1a1a" stroke-width="2.4"/>
<line x1="1413" y1="475.4" x2="1413" y2="483.5" stroke="#1a1a1a" stroke-width="3.2" />
<rect x="1397.1" y="483.5" width="31.8" height="19.5" rx="2" fill="#fff" stroke="#1a1a1a" stroke-width="2.4"/>
<path d="M1413,485 L1413,512" stroke="#1a1a1a" stroke-width="1.3" stroke-dasharray="4 3"/>
<rect x="1394.3" y="504" width="37.4" height="5" rx="0" fill="none" stroke="#1a1a1a" stroke-width="1.6"/>
<line x1="1544.2" y1="475.4" x2="1544.2" y2="483.5" stroke="#1a1a1a" stroke-width="3.2" />
<rect x="1528.3" y="483.5" width="31.8" height="19.5" rx="2" fill="#fff" stroke="#1a1a1a" stroke-width="2.4"/>
<path d="M1544.2,485 L1544.2,512" stroke="#1a1a1a" stroke-width="1.3" stroke-dasharray="4 3"/>
<rect x="1525.5" y="504" width="37.4" height="5" rx="0" fill="none" stroke="#1a1a1a" stroke-width="1.6"/>
<path d="M1382.2,510.8 L1574.8,510.8 M1382.2,510.8 L1382.2,744.8 M1574.8,510.8 L1574.8,730.4" stroke="#1a1a1a" stroke-width="2.4" fill="none"/>
<path d="M1382.2,696 C1382.2,748 1352,776.5 1310,776.5" fill="none" stroke="#1a1a1a" stroke-width="2.4" />
<path d="M1396.6,705.2 C1393,764 1358,794.5 1313,794.5" fill="none" stroke="#1a1a1a" stroke-width="2.4" />
<path d="M1574.8,688 C1574.8,735 1602,762 1645,762" fill="none" stroke="#1a1a1a" stroke-width="2.4" />
<path d="M1560.4,690.8 C1566,748 1596,780 1641,780" fill="none" stroke="#1a1a1a" stroke-width="2.4" />
<polyline points="1312,776.5 1272.4,776.5 1272.4,758.5 1254.4,758.5 1254.4,847.4 1443.4,847.4 1452.4,794.5 1505.3,794.5 1514.3,847.4 1702.6,847.4 1702.6,744.8 1684.6,744.8 1684.6,762 1643.2,762" fill="none" stroke="#1a1a1a" stroke-width="2.4" stroke-linejoin="round" />
<line x1="1315.6" y1="794.5" x2="1254.4" y2="794.5" stroke="#1a1a1a" stroke-width="2.4" />
<line x1="1639.6" y1="780" x2="1702.6" y2="780" stroke="#1a1a1a" stroke-width="2.4" />
<path d="M1264.2,336.5 L1259,336.5 L1259,331.7 L1225,331.7 Q1222.2,331.7 1222.2,334.5 L1222.2,376.2 Q1222.2,379 1225,379 L1259,379 L1259,374 L1264.2,374 Z" fill="#fff" stroke="#1a1a1a" stroke-width="2.4" stroke-linejoin="round"/>
<path d="M1264.2,338.5 L1230.5,338.5 L1230.5,372.5 L1264.2,372.5" fill="none" stroke="#1a1a1a" stroke-width="2.4"/>
<path d="M1226,334 L1226,377 M1228,336 L1228,375" fill="none" stroke="#1a1a1a" stroke-width="1"/>
<path d="M1218.5,333.2 L1214,333.2 A13,22.5 0 0 0 1214,378.2 L1218.5,378.2 Z" fill="#fff" stroke="#1a1a1a" stroke-width="2.4"/>
<rect x="1218.5" y="338.5" width="3.5" height="34.5" rx="0" fill="none" stroke="#1a1a1a" stroke-width="1.6"/>
<path d="M1202,353 L1209,353 L1209,358 L1202,358" fill="#fff" stroke="#1a1a1a" stroke-width="1.6"/>
<polygon points="1289,334.7 1303.2,334.7 1306.2,339 1306.2,372.4 1303.2,376.7 1289,376.7 1286,372.4 1286,339" fill="#fff" stroke="#1a1a1a" stroke-width="2.4" stroke-linejoin="round"/>
<line x1="1287" y1="344.5" x2="1305.2" y2="344.5" stroke="#1a1a1a" stroke-width="2.4" />
<line x1="1287" y1="367" x2="1305.2" y2="367" stroke="#1a1a1a" stroke-width="2.4" />
<polygon points="1322,334.7 1337.7,334.7 1340.7,339 1340.7,372.4 1337.7,376.7 1322,376.7 1319,372.4 1319,339" fill="#fff" stroke="#1a1a1a" stroke-width="2.4" stroke-linejoin="round"/>
<line x1="1320" y1="344.5" x2="1339.7" y2="344.5" stroke="#1a1a1a" stroke-width="2.4" />
<line x1="1320" y1="367" x2="1339.7" y2="367" stroke="#1a1a1a" stroke-width="2.4" />
<rect x="1310.7" y="338.5" width="8.3" height="35" rx="0" fill="#fff" stroke="#1a1a1a" stroke-width="2.4"/>
<polygon points="1340.7,344.5 1351,344.5 1355,349 1355,362.5 1351,367 1340.7,367" fill="#fff" stroke="#1a1a1a" stroke-width="2.4" stroke-linejoin="round"/>
<line x1="1350.5" y1="346" x2="1350.5" y2="366" stroke="#1a1a1a" stroke-width="1.3" />
<path d="M1305.5,385.7 L1305.5,314 L1309.7,271.5 L1331,275.5 L1328.7,306 Q1326,318 1315,324 L1311,327 L1311,385.7 Z" fill="#fff" stroke="#1a1a1a" stroke-width="2.4" stroke-linejoin="round"/>
<line x1="1310.5" y1="314" x2="1310.5" y2="385.7" stroke="#1a1a1a" stroke-width="1.3" />
<line x1="1320" y1="275" x2="1316.5" y2="316" stroke="#1a1a1a" stroke-width="1.3" />
<path d="M1312,271.7 L1313.5,257 M1329.5,275.5 L1331,260 M1310.5,256.5 L1319,260.5 L1328,258 L1333,262" fill="none" stroke="#1a1a1a" stroke-width="1.6"/>
<rect x="1656.2" y="275" width="17.9" height="90.2" rx="0" fill="#fff" stroke="#1a1a1a" stroke-width="2.4"/>
<rect x="1695.3" y="254.3" width="21.9" height="131.3" rx="0" fill="#fff" stroke="#1a1a1a" stroke-width="2.4"/>
<line x1="1695.3" y1="284" x2="1717.2" y2="284" stroke="#1a1a1a" stroke-width="2.4" />
<line x1="1695.3" y1="290.4" x2="1717.2" y2="290.4" stroke="#1a1a1a" stroke-width="2.4" />
<line x1="1695.3" y1="349.9" x2="1717.2" y2="349.9" stroke="#1a1a1a" stroke-width="2.4" />
<line x1="1695.3" y1="355.8" x2="1717.2" y2="355.8" stroke="#1a1a1a" stroke-width="2.4" />
<line x1="1694" y1="265" x2="1694" y2="375" stroke="#1a1a1a" stroke-width="1.3" />
<path d="M1478.7,2 L1478.7,862" stroke="#1a1a1a" stroke-width="1.3" fill="none" stroke-dasharray="72 8 12 8"/>
<path d="M1196,355.7 L1362,355.7" stroke="#1a1a1a" stroke-width="1.3" fill="none" stroke-dasharray="64 10 14 8 70"/>
<path d="M1641,319.8 L1730,319.8" stroke="#1a1a1a" stroke-width="1.3" fill="none" stroke-dasharray="7 7 90 5"/>
<path d="M1096,17.6 L1292,17.6 M1111,17.6 L1111,847.2 M1175.8,17.6 L1175.8,847.2 M1161,451.4 L1265.5,451.4 M1096,847.2 L1254.4,847.2 M1265.3,451.4 L1265.3,927.8 M1691.8,451.4 L1691.8,927.8 M1254.4,847.2 L1254.4,987.2 M1702.6,847.2 L1702.6,987.2 M1265.3,913.6 L1691.8,913.6 M1254.4,973 L1702.6,973 M1116.5,46.6 L1111,17.6 L1105.5,46.6 M1105.5,818.2 L1111,847.2 L1116.5,818.2 M1181.3,46.6 L1175.8,17.6 L1170.3,46.6 M1170.3,422.4 L1175.8,451.4 L1181.3,422.4 M1181.3,480.4 L1175.8,451.4 L1170.3,480.4 M1170.3,818.2 L1175.8,847.2 L1181.3,818.2 M1294.3,908.1 L1265.3,913.6 L1294.3,919.1 M1662.8,919.1 L1691.8,913.6 L1662.8,908.1 M1283.4,967.5 L1254.4,973 L1283.4,978.5 M1673.6,978.5 L1702.6,973 L1673.6,967.5" stroke="#1a1a1a" stroke-width="1.1" fill="none"/>
<text x="1473.7" y="900" textLength="37" font-family="Liberation Sans" font-style="italic" font-size="28" fill="#1a1a1a" text-anchor="middle" lengthAdjust="spacingAndGlyphs">120</text>
<text x="1473" y="959" textLength="35.5" font-family="Liberation Sans" font-style="italic" font-size="28" fill="#1a1a1a" text-anchor="middle" lengthAdjust="spacingAndGlyphs">126</text>
<text transform="translate(1162.4,236.8) rotate(-90)" x="0" y="0" textLength="37" font-family="Liberation Sans" font-style="italic" font-size="28" fill="#1a1a1a" text-anchor="middle" lengthAdjust="spacingAndGlyphs">122</text>
<text transform="translate(1091.5,435.2) rotate(-90)" x="0" y="0" textLength="56" font-family="Liberation Sans" font-style="italic" font-size="28" fill="#1a1a1a" text-anchor="middle" lengthAdjust="spacingAndGlyphs">233,5</text>
<text transform="translate(1161.8,640.4) rotate(-90)" x="0" y="0" textLength="53" font-family="Liberation Sans" font-style="italic" font-size="28" fill="#1a1a1a" text-anchor="middle" lengthAdjust="spacingAndGlyphs">111,5</text>
</g>
<text x="34" y="872.7" font-family="Liberation Sans" font-size="34.5" fill="#231f20" stroke="#231f20" stroke-width="0.55">1 – силовой кабель</text>
<text x="34" y="917.5" font-family="Liberation Sans" font-size="34.5" fill="#231f20" stroke="#231f20" stroke-width="0.55">2 – соединительная коробка УСК 12.Н</text>
<text x="34" y="962.2" font-family="Liberation Sans" font-size="34.5" fill="#231f20" stroke="#231f20" stroke-width="0.55">3 – нагревательная секция (лента)</text>
</svg>
</body></html>
